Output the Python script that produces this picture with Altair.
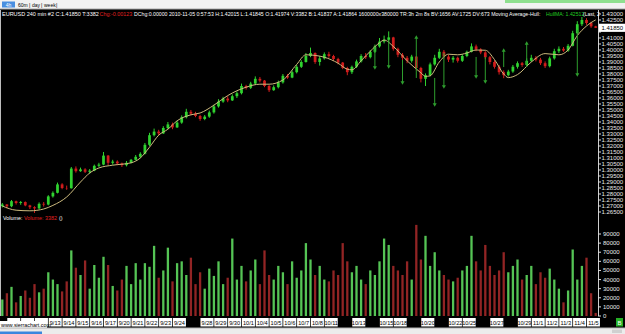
import altair as alt
import pandas as pd

# ---------------- data ----------------
close = [1.2712, 1.2698, 1.2740, 1.2725, 1.2733, 1.2705, 1.2690, 1.2680, 1.2718, 1.2712,
         1.2780, 1.2810, 1.2880, 1.2850, 1.2848, 1.3012, 1.2990, 1.3005, 1.2985, 1.2995,
         1.3035, 1.3045, 1.3120, 1.3060, 1.3070, 1.3055, 1.3040, 1.3060, 1.3085, 1.3110,
         1.3135, 1.3210, 1.3290, 1.3320, 1.3305, 1.3350, 1.3380, 1.3355, 1.3395, 1.3440,
         1.3485, 1.3470, 1.3450, 1.3425, 1.3445, 1.3480, 1.3530, 1.3570, 1.3595, 1.3580,
         1.3615, 1.3640, 1.3700, 1.3685, 1.3720, 1.3760, 1.3745, 1.3700, 1.3665, 1.3690,
         1.3730, 1.3785, 1.3770, 1.3815, 1.3860, 1.3900, 1.3950, 1.3975, 1.3900, 1.3930,
         1.3965, 1.3950, 1.3925, 1.3895, 1.3850, 1.3815, 1.3860, 1.3905, 1.3950, 1.3940,
         1.3985, 1.4030, 1.4070, 1.4085, 1.4105, 1.4010, 1.3960, 1.3935, 1.3910, 1.3945,
         1.3850, 1.3760, 1.3790, 1.3880, 1.3935, 1.3985, 1.3945, 1.3920, 1.3935, 1.3910,
         1.3950, 1.3985, 1.4030, 1.4005, 1.3980, 1.3940, 1.3900, 1.3860, 1.3815, 1.3790,
         1.3820, 1.3860, 1.3890, 1.3875, 1.3910, 1.3935, 1.3920, 1.3890, 1.3865, 1.3930,
         1.3990, 1.4010, 1.3995, 1.4035, 1.4140, 1.4215, 1.4250, 1.4225, 1.4197, 1.4185]
high = [1.2725, 1.2716, 1.2750, 1.2745, 1.2742, 1.2738, 1.2710, 1.2698, 1.2730, 1.2733,
        1.2790, 1.2822, 1.2895, 1.2890, 1.2870, 1.3025, 1.3030, 1.3020, 1.3015, 1.3008,
        1.3045, 1.3060, 1.3150, 1.3125, 1.3085, 1.3080, 1.3062, 1.3075, 1.3092, 1.3125,
        1.3148, 1.3225, 1.3310, 1.3345, 1.3335, 1.3365, 1.3400, 1.3395, 1.3410, 1.3455,
        1.3510, 1.3500, 1.3485, 1.3460, 1.3458, 1.3495, 1.3545, 1.3590, 1.3610, 1.3615,
        1.3630, 1.3655, 1.3720, 1.3710, 1.3735, 1.3780, 1.3775, 1.3750, 1.3710, 1.3705,
        1.3745, 1.3800, 1.3800, 1.3830, 1.3875, 1.3915, 1.3975, 1.4020, 1.3980, 1.3950,
        1.3980, 1.3985, 1.3960, 1.3935, 1.3900, 1.3860, 1.3870, 1.3920, 1.3965, 1.3975,
        1.4000, 1.4045, 1.4100, 1.4120, 1.4155, 1.4110, 1.4020, 1.3975, 1.3950, 1.3960,
        1.3950, 1.3860, 1.3805, 1.3895, 1.3960, 1.4010, 1.4000, 1.3960, 1.3950, 1.3945,
        1.3965, 1.3995, 1.4055, 1.4045, 1.4015, 1.3990, 1.3950, 1.3915, 1.3875, 1.3830,
        1.3835, 1.3875, 1.3905, 1.3900, 1.3930, 1.3960, 1.3950, 1.3935, 1.3905, 1.3945,
        1.4010, 1.4030, 1.4025, 1.4050, 1.4160, 1.4240, 1.4275, 1.4265, 1.4235, 1.42015]
low = [1.2688, 1.2682, 1.2690, 1.2712, 1.2710, 1.2698, 1.2675, 1.2642, 1.2672, 1.2695,
       1.2705, 1.2770, 1.2805, 1.2840, 1.2835, 1.2845, 1.2978, 1.2985, 1.2975, 1.2968,
       1.2990, 1.3025, 1.3040, 1.3040, 1.3045, 1.3040, 1.3025, 1.3030, 1.3055, 1.3080,
       1.3100, 1.3130, 1.3200, 1.3280, 1.3290, 1.3300, 1.3340, 1.3340, 1.3350, 1.3385,
       1.3430, 1.3455, 1.3440, 1.3410, 1.3415, 1.3435, 1.3470, 1.3520, 1.3560, 1.3565,
       1.3575, 1.3600, 1.3630, 1.3670, 1.3675, 1.3710, 1.3730, 1.3690, 1.3650, 1.3660,
       1.3680, 1.3720, 1.3760, 1.3765, 1.3805, 1.3850, 1.3895, 1.3940, 1.3885, 1.3870,
       1.3920, 1.3935, 1.3910, 1.3880, 1.3840, 1.3790, 1.3800, 1.3850, 1.3895, 1.3925,
       1.3930, 1.3975, 1.4020, 1.4055, 1.4060, 1.3995, 1.3940, 1.3915, 1.3890, 1.3895,
       1.3830, 1.3730, 1.3700, 1.3780, 1.3870, 1.3925, 1.3930, 1.3900, 1.3895, 1.3895,
       1.3900, 1.3940, 1.3980, 1.3990, 1.3965, 1.3925, 1.3880, 1.3845, 1.3795, 1.3765,
       1.3780, 1.3810, 1.3845, 1.3860, 1.3860, 1.3900, 1.3905, 1.3875, 1.3850, 1.3855,
       1.3920, 1.3975, 1.3985, 1.3985, 1.4030, 1.4130, 1.4200, 1.4210, 1.4185, 1.41845]
first_open = 1.2700
volume = [18000, 25000, 32000, 15000, 22000, 28000, 20000, 35000, 26000, 30000,
          48000, 40000, 35000, 27000, 38000, 72000, 53000, 45000, 61000, 30000,
          56000, 42000, 65000, 56000, 33000, 28000, 40000, 55000, 35000, 58000,
          40000, 58000, 54000, 77000, 42000, 50000, 75000, 38000, 58000, 60000,
          45000, 64000, 35000, 48000, 30000, 52000, 44000, 60000, 35000, 42000,
          85000, 40000, 55000, 38000, 50000, 62000, 35000, 72000, 45000, 40000,
          55000, 48000, 35000, 60000, 42000, 50000, 80000, 62000, 45000, 55000,
          40000, 38000, 50000, 45000, 80000, 60000, 48000, 55000, 40000, 35000,
          50000, 45000, 60000, 85000, 78000, 55000, 50000, 45000, 60000, 40000,
          100000, 62000, 88000, 55000, 70000, 50000, 45000, 40000, 38000, 42000,
          50000, 55000, 88000, 60000, 50000, 78000, 55000, 45000, 50000, 70000,
          48000, 55000, 62000, 40000, 45000, 55000, 35000, 48000, 42000, 52000,
          40000, 30000, 15000, 28000, 73000, 40000, 55000, 64000, 25000, 3382]

ma_bars = [0, 3, 6, 9, 11, 14, 17, 19, 21, 24, 28, 30, 32, 34, 36, 38, 41, 43, 46, 49,
           53, 56, 58, 61, 64, 66, 68, 70, 73, 75, 76, 78, 80, 82, 83, 85, 88, 91, 92, 93,
           95, 97, 99, 101, 103, 105, 107, 109, 110, 112, 115, 118, 121, 123, 125, 127, 129]
ma_vals = [1.2700, 1.2665, 1.2660, 1.2675, 1.2705, 1.2775, 1.2900, 1.2975, 1.3017, 1.3040,
           1.3060, 1.3100, 1.3190, 1.3290, 1.3340, 1.3410, 1.3460, 1.3475, 1.3540, 1.3620,
           1.3690, 1.3715, 1.3715, 1.3750, 1.3880, 1.3960, 1.3955, 1.3940, 1.3890, 1.3840,
           1.3835, 1.3910, 1.3990, 1.4060, 1.4083, 1.4030, 1.3910, 1.3810, 1.3780, 1.3785,
           1.3900, 1.3965, 1.3960, 1.3975, 1.4000, 1.3998, 1.3920, 1.3800, 1.3770, 1.3795,
           1.3900, 1.3970, 1.3960, 1.4000, 1.4120, 1.4200, 1.4251]

sig_bars = [81, 84, 87, 90, 94, 96, 103, 105, 109, 114, 125]
sig_top = [1.4025, 1.4083, 1.3917, 1.4108, 1.3767, 1.3975, 1.3942, 1.3942, 1.4000, 1.4058, 1.4167]
sig_bottom = [1.3850, 1.3858, 1.3725, 1.3767, 1.3542, 1.3692, 1.3775, 1.3733, 1.3858, 1.3858, 1.3792]
sig_dir = ["down", "down", "down", "up", "down", "down", "down", "down", "up", "up", "down"]

price_ticks = [1.430, 1.425, 1.420, 1.415, 1.410, 1.405, 1.400, 1.395, 1.390, 1.385,
               1.380, 1.375, 1.370, 1.365, 1.360, 1.355, 1.350, 1.345, 1.340, 1.335,
               1.330, 1.325, 1.320, 1.315, 1.310, 1.305, 1.300, 1.295, 1.290, 1.285,
               1.280, 1.275, 1.270, 1.265]
vol_ticks = [90000, 80000, 70000, 60000, 50000, 40000, 30000, 20000, 10000, 0]
last_price = 1.41850

# labels of the first days lie under the watermark: only their boxes show
hidden_dates = ["9/8", "9/9", "9/10"]
hidden_day = [1, 2, 3]
date_labels = ["9/13", "9/14", "9/15", "9/16", "9/17", "9/20", "9/21",
               "9/22", "9/23", "9/24", "9/28", "9/29", "9/30", "10/1", "10/4", "10/5", "10/6",
               "10/7", "10/8", "10/11", "10/13", "10/15", "10/18", "10/20", "10/22", "10/25",
               "10/27", "10/29", "11/1", "11/2", "11/3", "11/4", "11/5"]
date_day = [4, 5, 6, 7, 8, 9, 10, 11, 12, 13, 15, 16, 17, 18, 19, 20, 21,
            22, 23, 24, 26, 28, 29, 31, 33, 34, 36, 38, 39, 40, 41, 42, 43]
BARS_PER_DAY = 3

# ---------------- tables ----------------
n = len(close)
opens = [first_open] + close[:-1]
bars = pd.DataFrame({
    "i": list(range(n)), "o": opens, "h": high, "l": low, "c": close, "v": volume,
})
bars["dir"] = ["up" if c >= o else "down" for o, c in zip(bars["o"], bars["c"])]
bars["x0"] = bars["i"] - 0.3
bars["x1"] = bars["i"] + 0.3
bars["vx0"] = bars["i"] - 0.25
bars["vx1"] = bars["i"] + 0.25
bars["zero"] = 0

ma = pd.DataFrame({"b": ma_bars, "m": ma_vals})
sig = pd.DataFrame({"b": sig_bars, "t": sig_top, "bo": sig_bottom, "d": sig_dir})
sig["tip"] = [bo if d == "down" else t for t, bo, d in zip(sig["t"], sig["bo"], sig["d"])]
pt = pd.DataFrame({"p": price_ticks})
pt["show"] = [abs(p - last_price) > 0.004 for p in price_ticks]
vt = pd.DataFrame({"v": vol_ticks})
lp = pd.DataFrame({"p": [last_price], "p0": [last_price - 0.0034], "p1": [last_price + 0.0034]})
dates = pd.DataFrame({"lab": hidden_dates + date_labels, "d": hidden_day + date_day,
                      "txt": [False] * len(hidden_day) + [True] * len(date_day)})
dates["pos"] = dates["d"] * BARS_PER_DAY - 0.5
dates["bx0"] = dates["pos"] - 1.42
dates["bx1"] = dates["pos"] + 1.42
dummy = pd.DataFrame({"k": [0]})

FONT = "Liberation Sans"
XS = alt.Scale(domain=[-0.5, n - 0.5], range=[0, 598], nice=False, zero=False)
PS = alt.Scale(domain=[1.263333, 1.433333], range=[214, 10], nice=False, zero=False)
VS = alt.Scale(domain=[0, 90000], range=[316, 234], nice=False, zero=False)
UP, DOWN = "#2fd22f", "#d01c1c"
VUP, VDOWN = "#55c455", "#922424"


def X(f):
    return alt.X(f, type="quantitative", scale=XS, axis=None)


def YP(f):
    return alt.Y(f, type="quantitative", scale=PS, axis=None)


def YV(f):
    return alt.Y(f, type="quantitative", scale=VS, axis=None)


def box(x1, x2, y1, y2, color):
    return alt.Chart(dummy).mark_rect(color=color).encode(
        x=alt.value(x1), x2=alt.value(x2), y=alt.value(y1), y2=alt.value(y2))


def txt(s, x, y, color, size, align="left"):
    return alt.Chart(dummy).mark_text(text=s, color=color, fontSize=size, align=align,
                                      baseline="middle", font=FONT).encode(
        x=alt.value(x), y=alt.value(y))


def vline(x, y1, y2, color):
    return alt.Chart(dummy).mark_rule(color=color, strokeWidth=1).encode(
        x=alt.value(x), y=alt.value(y1), y2=alt.value(y2))


layers = []

# volume pane
layers.append(alt.Chart(bars).mark_rect().encode(
    x=X("vx0"), x2="vx1", y=YV("v"), y2="zero",
    color=alt.Color("dir:N", scale=alt.Scale(domain=["up", "down"], range=[VUP, VDOWN]), legend=None)))

# candles
cscale = alt.Scale(domain=["up", "down"], range=[UP, DOWN])
layers.append(alt.Chart(bars).mark_rule(strokeWidth=1).encode(
    x=X("i"), y=YP("l"), y2="h", color=alt.Color("dir:N", scale=cscale, legend=None)))
layers.append(alt.Chart(bars).mark_rect().encode(
    x=X("x0"), x2="x1", y=YP("o"), y2="c", color=alt.Color("dir:N", scale=cscale, legend=None)))

# Hull moving average
layers.append(alt.Chart(ma).mark_line(color="#cdbb7e", strokeWidth=1, interpolate="monotone").encode(
    x=X("b"), y=YP("m")))

# signal arrows
layers.append(alt.Chart(sig).mark_rule(color="#2e9e2e", strokeWidth=1).encode(
    x=X("b"), y=YP("t"), y2="bo"))
layers.append(alt.Chart(sig).mark_point(filled=True, size=16, color="#2e9e2e", opacity=1).encode(
    x=X("b"), y=YP("tip"),
    shape=alt.Shape("d:N", scale=alt.Scale(domain=["down", "up"], range=["triangle-down", "triangle-up"]), legend=None)))

# right axis
layers.append(vline(0.5, 10, 316, "#bdbdbd"))
layers.append(vline(598.5, 10, 316, "#cfcfcf"))
layers.append(alt.Chart(pt).mark_rule(color="#dddddd").encode(
    x=alt.value(598), x2=alt.value(601), y=YP("p")))
layers.append(alt.Chart(pt).transform_filter("datum.show").mark_text(
    align="left", baseline="middle", fontSize=6, color="#e8e8e8", font=FONT).encode(
    x=alt.value(601.5), y=YP("p"), text=alt.Text("p:Q", format=".5f")))
layers.append(alt.Chart(lp).mark_rect(color="white").encode(
    x=alt.value(599), x2=alt.value(625), y=YP("p0"), y2="p1"))
layers.append(alt.Chart(lp).mark_text(align="left", baseline="middle", fontSize=6, color="black", font=FONT).encode(
    x=alt.value(601.5), y=YP("p"), text=alt.Text("p:Q", format=".5f")))
layers.append(alt.Chart(vt).mark_rule(color="#dddddd").encode(
    x=alt.value(598), x2=alt.value(601), y=YV("v")))
layers.append(alt.Chart(vt).mark_text(align="left", baseline="middle", fontSize=6, color="#e8e8e8", font=FONT).encode(
    x=alt.value(603), y=YV("v"), text=alt.Text("v:Q", format="d")))

# date labels
layers.append(alt.Chart(dates).mark_rect(color="white").encode(
    x=X("bx0"), x2="bx1", y=alt.value(318), y2=alt.value(326.5)))
layers.append(alt.Chart(dates).transform_filter("datum.txt").mark_text(
    align="center", baseline="middle", fontSize=5.6, color="black", font=FONT).encode(
    x=X("pos"), y=alt.value(322.5), text="lab:N"))

# watermark & badge
layers.append(box(0, 47, 321, 328, "white"))
layers.append(txt("www.sierrachart.com", 1, 324.7, "black", 5.4))
layers.append(box(616, 623, 318, 326.5, "#25b025"))
layers.append(txt("B", 619.5, 322.5, "white", 6, "center"))

# pane titles
info1 = "EURUSD  240 min  #2 C:1.41850 T:3382"
info2 = "Chg:-0.00123"
info3 = ("DChg:0.00000 2010-11-05 0:57:53 H:1.42015 L:1.41845 O:1.41974 V:3382 B:1.41837 "
         "A:1.41864 1600000x380000 TR:3h 2m 8s BV:1656 AV:1725 DV:673 Moving Average-Hull:")
info4 = "HullMA: 1.42512"
info5 = "(Last, 2"
layers.append(txt(info1, 2, 14, "white", 5.5))
layers.append(txt(info2, 99.5, 14, "#e02020", 5.4))
layers.append(txt(info3, 134, 14, "white", 5.2))
layers.append(txt(info4, 546, 14, "#22cc22", 5.2))
layers.append(txt(info5, 583, 14, "white", 5.0))
layers.append(txt("Volume:", 3, 218, "white", 5.4))
layers.append(txt("Volume: 3382", 24, 218, "#e02020", 5.4))
layers.append(txt("()", 59, 218, "white", 5.4))

# top toolbar
layers.append(box(0, 625, 0, 9, "#f2f2f2"))
layers.append(box(505, 625, 0, 3, "#8fe08f"))
layers.append(alt.Chart(dummy).mark_rule(color="#a8a8a8").encode(
    x=alt.value(0), x2=alt.value(625), y=alt.value(9)))
layers.append(box(2, 15, 1.5, 7.5, "#4a8fe0"))
layers.append(txt("4h", 8.5, 4.7, "white", 5, "center"))
layers.append(txt("60m", 18, 4.7, "black", 5))
layers.append(txt("|", 29, 4.7, "black", 5))
layers.append(txt("day", 32, 4.7, "black", 5))
layers.append(txt("|", 41, 4.7, "black", 5))
layers.append(txt("week", 44, 4.7, "black", 5))
layers.append(txt("|", 56, 4.7, "black", 5))

# bottom bar
layers.append(box(0, 625, 328, 334, "#ececec"))
layers.append(alt.Chart(dummy).mark_rule(color="#b4b4b4").encode(
    x=alt.value(0), x2=alt.value(625), y=alt.value(328)))
layers.append(box(0, 42, 331.5, 334, "#3a86de"))
layers.append(box(612, 622, 329.5, 333, "#d0d0d0"))

chart = alt.layer(*layers).resolve_scale(
    x="independent", y="independent", color="independent", shape="independent"
).properties(
    width=625, height=334, background="black", padding=0,
    autosize=alt.AutoSizeParams(type="none"),
).configure_view(stroke=None)

chart.save("out.html", embed_options={"renderer": "svg", "actions": False})
